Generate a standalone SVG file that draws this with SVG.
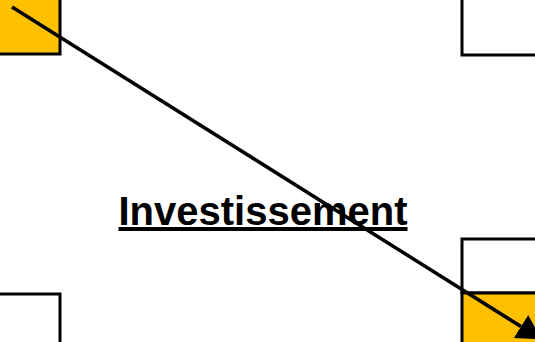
<svg xmlns="http://www.w3.org/2000/svg" width="535" height="342" viewBox="0 0 535 342">
  <style>
    .box { stroke: #000; stroke-width: 3; }
    .orange { fill: #FFC000; }
    .white { fill: #FFFFFF; }
    .label { font-family: "Liberation Sans", Arial, sans-serif; font-weight: bold; font-size: 40px; text-decoration: underline; fill: #000; }
    .conn { stroke: #000; stroke-width: 3.5; fill: none; }
  </style>
  <defs>
    <marker id="arrow" markerUnits="userSpaceOnUse" viewBox="0 0 24 27" markerWidth="24" markerHeight="27" refX="0" refY="13.5" orient="auto">
      <path d="M0,0 L24,13.5 L0,27 z" fill="#000"/>
    </marker>
  </defs>
  <rect width="535" height="342" fill="#FFFFFF"/>
  <g id="node-top-left">
    <rect class="box orange" x="-10" y="-10" width="70" height="64"/>
  </g>
  <g id="node-top-right">
    <rect class="box white" x="462" y="-10" width="100" height="65"/>
  </g>
  <g id="node-bottom-right-white">
    <rect class="box white" x="462" y="239" width="100" height="54"/>
  </g>
  <g id="node-bottom-right-orange">
    <rect class="box orange" x="462" y="293" width="100" height="70"/>
  </g>
  <g id="node-bottom-left">
    <rect class="box white" x="-10" y="294" width="70" height="70"/>
  </g>
  <g id="node-label">
    <text class="label" x="263" y="225" text-anchor="middle">Investissement</text>
  </g>
  <g id="connectors">
    <line class="conn" x1="12" y1="7" x2="521" y2="326.5" marker-end="url(#arrow)"/>
  </g>
</svg>
